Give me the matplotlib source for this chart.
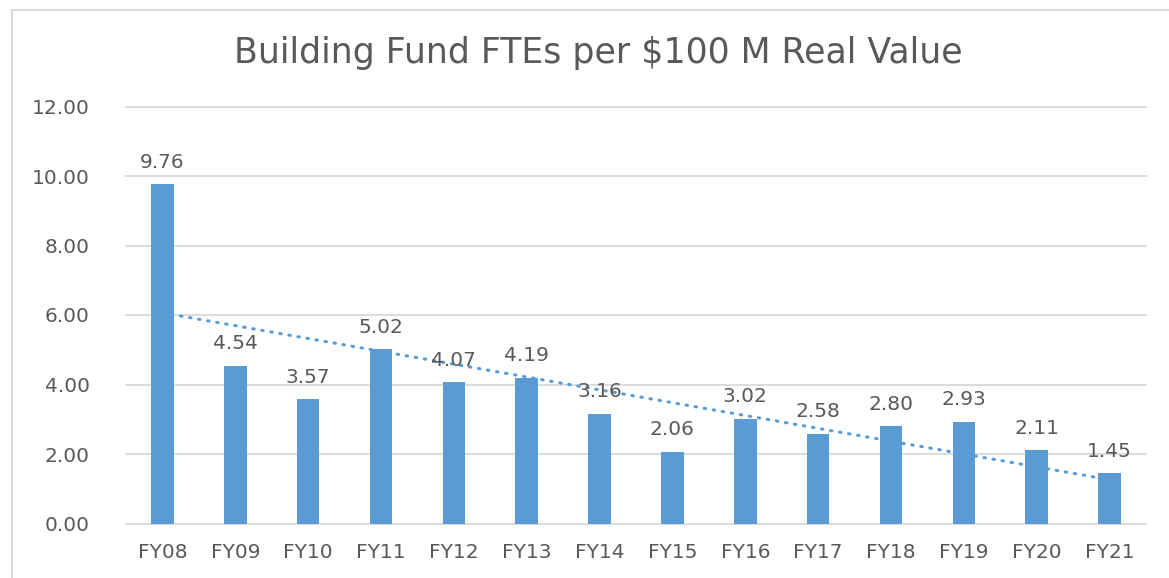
import numpy as np
import matplotlib.pyplot as plt
from matplotlib.lines import Line2D

# FTEs per $100M real value, by fiscal year
years = ["FY08", "FY09", "FY10", "FY11", "FY12", "FY13", "FY14",
         "FY15", "FY16", "FY17", "FY18", "FY19", "FY20", "FY21"]
ftes = [9.76, 4.54, 3.57, 5.02, 4.07, 4.19, 3.16,
        2.06, 3.02, 2.58, 2.80, 2.93, 2.11, 1.45]

bar_color = "#5B9BD5"
text_color = "#595959"
grid_color = "#D9D9D9"

plt.rcParams['font.family'] = ['DejaVu Sans']

fig = plt.figure(figsize=(11.69, 5.78), dpi=100)
ax = fig.add_axes([126 / 1169, 1 - 523.5 / 578, (1146 - 126) / 1169, (523.5 - 106.5) / 578])

x = np.arange(len(years))
bars = ax.bar(x, ftes, width=0.31, color=bar_color, zorder=2)

# linear trendline (like Excel's)
k, b = np.polyfit(x, ftes, 1)
ax.plot(x[[0, -1]], k * x[[0, -1]] + b, color=bar_color, lw=2.2,
        linestyle=(0, (0.5, 2.5)), dash_capstyle='round', zorder=3)

for xi, v in zip(x, ftes):
    ax.annotate(f"{v:.2f}", (xi, v), xytext=(0, 9), textcoords='offset points',
                ha='center', va='bottom', fontsize=14.5, color=text_color)

ax.set_xlim(-0.5, len(years) - 0.5)
ax.set_ylim(0, 12)
ax.set_yticks(np.arange(0, 13, 2))
ax.set_yticklabels([f"{t:.2f}" for t in np.arange(0, 13, 2)])
ax.set_xticks(x)
ax.set_xticklabels(years)
ax.tick_params(axis='both', length=0, labelsize=14.5, colors=text_color)
ax.tick_params(axis='y', pad=26)
ax.tick_params(axis='x', pad=14)
ax.grid(axis='y', color=grid_color, lw=1.3, zorder=0)
for gl in ax.get_ygridlines():
    gl.set_clip_on(False)
ax.set_axisbelow(True)
for s in ax.spines.values():
    s.set_visible(False)

fig.text(598 / 1169, 1 - 53 / 578, "Building Fund FTEs per $100 M Real Value",
         ha='center', va='center', fontsize=25, color=text_color)

# chart frame (left and top edges visible)
fig.add_artist(Line2D([12 / 1169, 12 / 1169], [0, 1 - 10 / 578],
                      transform=fig.transFigure, color=grid_color, lw=1.5))
fig.add_artist(Line2D([12 / 1169, 1], [1 - 10 / 578, 1 - 10 / 578],
                      transform=fig.transFigure, color=grid_color, lw=1.5))

fig.savefig("out.png", dpi=100)
